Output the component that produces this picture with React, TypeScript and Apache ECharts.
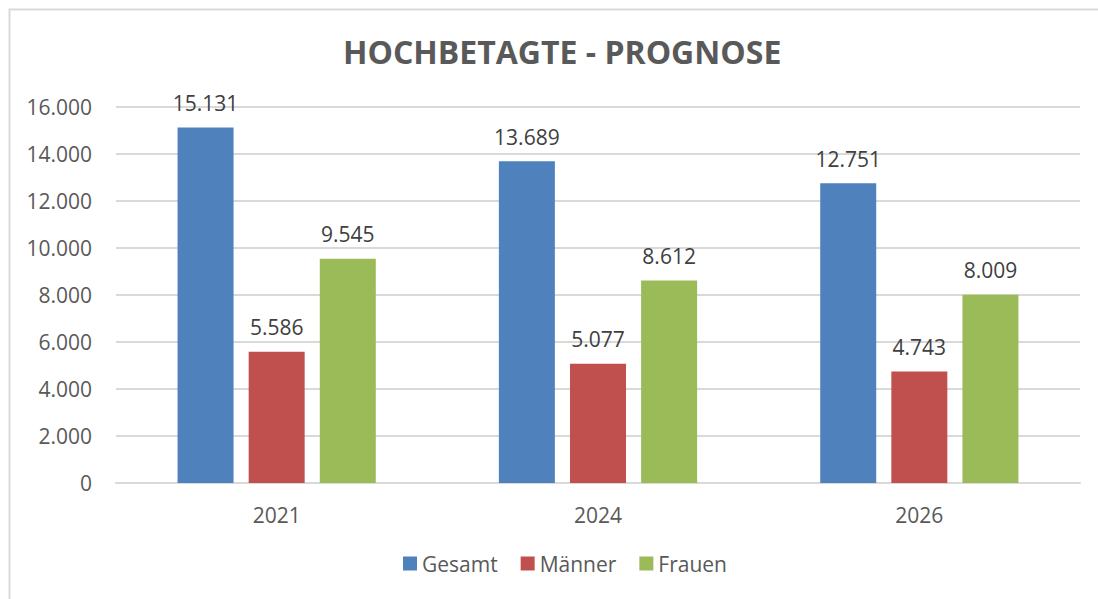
import React, { useEffect, useRef } from "react";
import * as echarts from "echarts";

const categories = ["2021", "2024", "2026"];
const gesamt = [15131, 13689, 12751];
const maenner = [5586, 5077, 4743];
const frauen = [9545, 8612, 8009];
const seriesNames = ["Gesamt", "Männer", "Frauen"];
const colors = ["#4F81BD", "#C0504D", "#9BBB59"];

const fmt = (v: number) => {
  const s = String(Math.round(v));
  return s.replace(/\B(?=(\d{3})+(?!\d))/g, ".");
};

const FONT = "'Open Sans', 'Noto Sans', sans-serif";

export default function App() {
  const ref = useRef<HTMLDivElement>(null);
  useEffect(() => {
    if (!ref.current) return;
    const chart = echarts.init(ref.current, undefined, { renderer: "svg" });
    const mk = (name: string, data: number[], color: string) => ({
      name,
      type: "bar",
      data,
      barWidth: 56,
      barGap: "27%",
      itemStyle: { color },
      label: {
        show: true,
        position: "top",
        distance: 14,
        formatter: (p: any) => fmt(p.value),
        color: "#404040",
        fontSize: 21,
        fontFamily: FONT,
      },
    });
    chart.setOption({
      animation: false,
      backgroundColor: "#ffffff",
      textStyle: { fontFamily: FONT },
      graphic: [
        {
          type: "rect",
          shape: { x: 9.5, y: 9.5, width: 1100, height: 600 },
          style: { fill: "none", stroke: "#d9d9d9", lineWidth: 2 },
          silent: true,
        },
      ],
      title: {
        text: "HOCHBETAGTE - PROGNOSE",
        left: 338,
        top: 30,
        textStyle: {
          fontFamily: FONT,
          fontWeight: "bold",
          fontSize: 32,
          color: "#595959",
        },
      },
      legend: {
        bottom: 20,
        left: 398,
        itemWidth: 14,
        itemHeight: 14,
        itemGap: 23,
        icon: "rect",
        textStyle: { color: "#595959", fontSize: 21, fontFamily: FONT },
        data: seriesNames,
      },
      grid: { left: 116, right: 18, top: 107, bottom: 116 },
      xAxis: {
        type: "category",
        data: categories,
        axisLine: { lineStyle: { color: "#d9d9d9", width: 2 } },
        axisTick: { show: false },
        axisLabel: { color: "#595959", fontSize: 21, margin: 21, fontFamily: FONT },
      },
      yAxis: {
        type: "value",
        min: 0,
        max: 16000,
        interval: 2000,
        axisLine: { show: false },
        axisTick: { show: false },
        splitLine: { lineStyle: { color: "#d9d9d9", width: 2 } },
        axisLabel: {
          color: "#595959",
          fontSize: 21,
          margin: 24,
          fontFamily: FONT,
          formatter: (v: number) => fmt(v),
        },
      },
      series: [
        mk(seriesNames[0], gesamt, colors[0]),
        mk(seriesNames[1], maenner, colors[1]),
        mk(seriesNames[2], frauen, colors[2]),
      ],
    });
    return () => chart.dispose();
  }, []);
  return (
    <div
      ref={ref}
      style={{ position: "fixed", left: 0, top: 0, width: 1098, height: 599 }}
    />
  );
}
